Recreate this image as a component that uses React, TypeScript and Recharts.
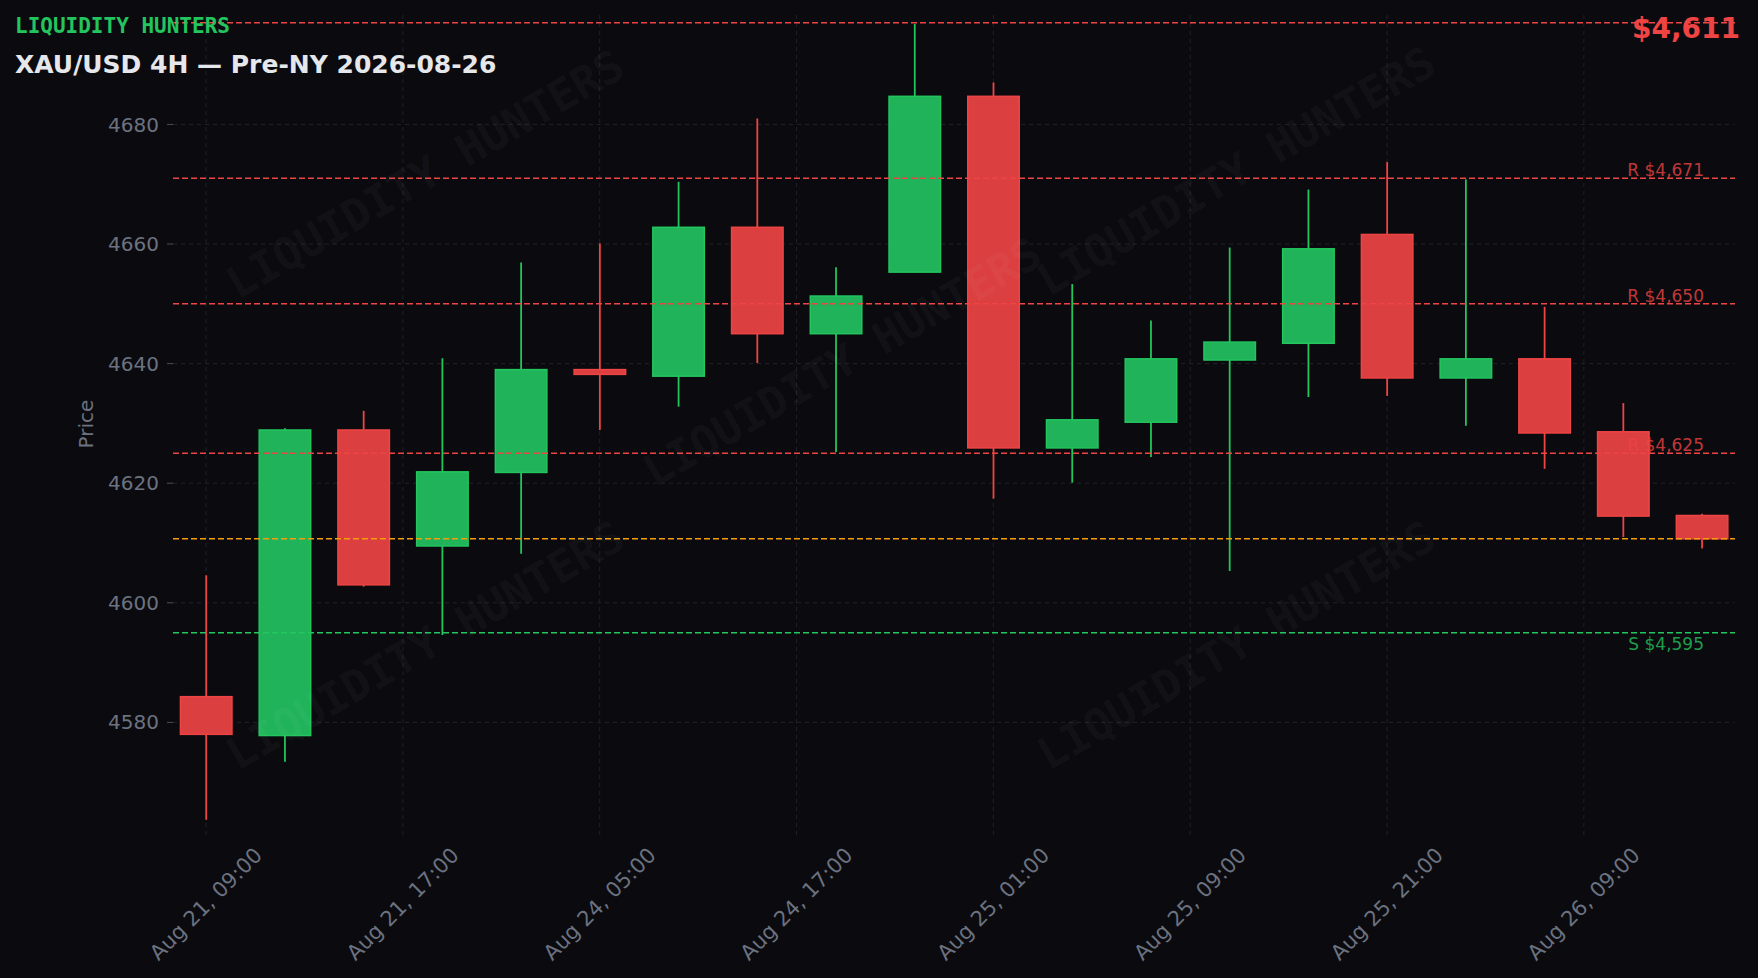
import React from "react";
import {
  ComposedChart,
  Bar,
  XAxis,
  YAxis,
  CartesianGrid,
  ReferenceLine,
} from "recharts";

const W = 1758;
const H = 978;
const BG = "#0b0b0f";
const UP = "#22c55e";
const DOWN = "#ef4444";
const MUTED = "#6b7280";

// 4H candles, oldest first
const opens = [4584.3, 4577.8, 4628.9, 4609.5, 4621.8, 4639.0, 4637.9, 4662.8, 4645.0, 4655.3, 4684.7, 4625.9, 4630.2, 4640.6, 4643.4, 4661.6, 4637.6, 4640.8, 4628.6, 4614.6];
const highs = [4604.6, 4629.2, 4632.1, 4640.9, 4656.9, 4660.1, 4670.4, 4681.0, 4656.1, 4696.8, 4687.0, 4653.3, 4647.2, 4659.4, 4669.1, 4673.7, 4670.8, 4649.5, 4633.4, 4614.9];
const lows = [4563.7, 4573.4, 4602.7, 4594.6, 4608.2, 4628.9, 4632.8, 4640.1, 4625.2, 4655.3, 4617.4, 4620.1, 4624.4, 4605.3, 4634.4, 4634.6, 4629.6, 4622.4, 4611.0, 4609.1];
const closes = [4578.0, 4628.9, 4603.0, 4621.9, 4639.0, 4638.2, 4662.8, 4645.0, 4651.3, 4684.7, 4625.9, 4630.6, 4640.8, 4643.6, 4659.2, 4637.6, 4640.8, 4628.4, 4614.5, 4610.7];

// x ticks (candle index) and their labels
const xTicks = [0, 2.5, 5, 7.5, 10, 12.5, 15, 17.5];
const xTickLabels = ["Aug 21, 09:00", "Aug 21, 17:00", "Aug 24, 05:00", "Aug 24, 17:00", "Aug 25, 01:00", "Aug 25, 09:00", "Aug 25, 21:00", "Aug 26, 09:00"];
const yTicks = [4580, 4600, 4620, 4640, 4660, 4680];

// levels
const resistance = [4697, 4671, 4650, 4625];
const resistanceLabels = ["", "R $4,671", "R $4,650", "R $4,625"];
const support = [4595];
const supportLabels = ["S $4,595"];
const lastPrice = 4610.7;

const watermarks = [
  [425, 174],
  [842, 362],
  [1236, 171],
  [425, 645],
  [1236, 645],
];

const candles = opens.map((o, i) => ({
  idx: i,
  o,
  h: highs[i],
  l: lows[i],
  c: closes[i],
  range: [lows[i], highs[i]],
}));

const Candle = (props: any) => {
  const { x, y, width, height, payload } = props;
  const { o, h, l, c } = payload;
  const up = c >= o;
  const color = up ? UP : DOWN;
  const fill = up ? "#21b35a" : "#db3f40";
  const ppu = height / (h - l);
  const top = y + (h - Math.max(o, c)) * ppu;
  const bot = y + (h - Math.min(o, c)) * ppu;
  const cx = x + width / 2;
  return (
    <g>
      <line x1={cx} x2={cx} y1={y} y2={y + height} stroke={color} strokeWidth={1.8} />
      <rect
        x={x + 0.75}
        y={top}
        width={width - 1.5}
        height={Math.max(bot - top, 1)}
        fill={fill}
        stroke={color}
        strokeWidth={1.5}
      />
    </g>
  );
};

const levelLabel = (text: string, color: string, below: boolean) => (props: any) => {
  const vb = props.viewBox;
  if (!text || !vb) return null;
  return (
    <text
      x={vb.x + vb.width - 31}
      y={below ? vb.y + 17 : vb.y - 2}
      textAnchor="end"
      fill={color}
      fillOpacity={0.8}
      fontSize={17}
      fontFamily="DejaVu Sans"
    >
      {text}
    </text>
  );
};

const XTick = (props: any) => {
  const { x, y, payload } = props;
  const i = xTicks.indexOf(payload.value);
  const cy = y + 60;
  return (
    <text
      x={x}
      y={cy}
      textAnchor="middle"
      dominantBaseline="central"
      transform={`rotate(-45, ${x}, ${cy})`}
      fill={MUTED}
      fontSize={21}
      fontFamily="DejaVu Sans"
    >
      {xTickLabels[i]}
    </text>
  );
};

const PriceLabel = () => (
  <text
    x={86}
    y={424}
    textAnchor="middle"
    dominantBaseline="central"
    transform="rotate(-90, 86, 424)"
    fill={MUTED}
    fontSize={20}
    fontFamily="DejaVu Sans"
  >
    Price
  </text>
);

export default function App() {
  return (
    <div
      style={{
        position: "fixed",
        left: 0,
        top: 0,
        width: W,
        height: H,
        background: BG,
        fontFamily: "DejaVu Sans",
      }}
    >
      <ComposedChart
        width={W}
        height={H}
        data={candles}
        margin={{ top: 15, right: 23, bottom: 0, left: 0 }}
      >
        {/* syncWithTicks: grid only at tick values, no frame at plot edges */}
        <CartesianGrid stroke="#20212a" strokeDasharray="4 4" syncWithTicks />
        <XAxis
          dataKey="idx"
          type="number"
          domain={[-0.42, 19.42]}
          allowDataOverflow
          ticks={xTicks}
          interval={0}
          height={142}
          tick={<XTick />}
          tickLine={false}
          axisLine={false}
        />
        <YAxis
          type="number"
          domain={[4561, 4698.3]}
          allowDataOverflow
          ticks={yTicks}
          width={173}
          tick={{ fill: MUTED, fontSize: 20, fontFamily: "DejaVu Sans" }}
          tickLine={{ stroke: "#4b5060" }}
          tickSize={6}
          tickMargin={8}
          axisLine={false}
          label={<PriceLabel />}
        />
        {resistance.map((v, i) => (
          <ReferenceLine
            key={"r" + i}
            y={v}
            stroke={DOWN}
            strokeWidth={1.5}
            strokeDasharray="6 3"
            label={levelLabel(resistanceLabels[i], DOWN, false)}
          />
        ))}
        {support.map((v, i) => (
          <ReferenceLine
            key={"s" + i}
            y={v}
            stroke={UP}
            strokeWidth={1.5}
            strokeDasharray="6 3"
            label={levelLabel(supportLabels[i], UP, true)}
          />
        ))}
        <ReferenceLine y={lastPrice} stroke="#f59e0b" strokeWidth={1.5} strokeDasharray="6 3" />
        <Bar dataKey="range" barSize={53} shape={<Candle />} isAnimationActive={false} />
      </ComposedChart>
      <svg
        width={W}
        height={H}
        style={{ position: "absolute", left: 0, top: 0, pointerEvents: "none" }}
      >
        {watermarks.map(([x, y], i) => (
          <text
            key={i}
            x={x}
            y={y}
            textAnchor="middle"
            dominantBaseline="central"
            transform={`rotate(-30, ${x}, ${y})`}
            fill="#ffffff"
            fillOpacity={0.045}
            fontSize={44}
            fontWeight="bold"
            fontFamily="DejaVu Sans Mono"
          >
            LIQUIDITY HUNTERS
          </text>
        ))}
        <text x={15} y={33} fill={UP} fontSize={21} fontWeight="bold" fontFamily="DejaVu Sans Mono">
          LIQUIDITY HUNTERS
        </text>
        <text x={15} y={73} fill="#e5e7eb" fontSize={25} fontWeight="bold" fontFamily="DejaVu Sans">
          XAU/USD 4H — Pre-NY 2026-08-26
        </text>
        <text x={1740} y={38} textAnchor="end" fill={DOWN} fontSize={28} fontWeight="bold" fontFamily="DejaVu Sans">
          $4,611
        </text>
      </svg>
    </div>
  );
}
